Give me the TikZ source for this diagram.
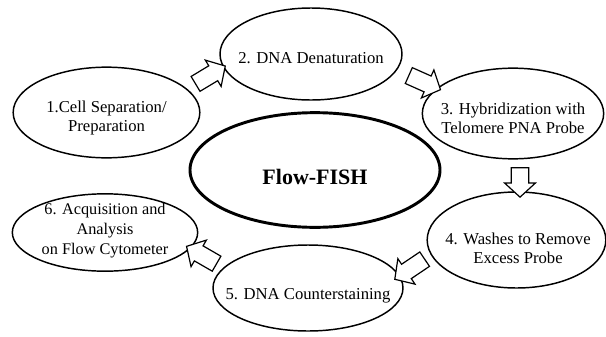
\documentclass[tikz,border=0pt]{standalone}
\usepackage{fontspec}
\setmainfont{Liberation Serif}
\usetikzlibrary{shapes.geometric,shapes.arrows}
\tikzset{
  stepell/.style={ellipse, draw, line width=1.1pt, inner sep=0pt},
  steptext/.style={align=center, inner sep=0pt,
    font=\fontsize{12.5pt}{14.3pt}\selectfont},
  hubell/.style={ellipse, draw, line width=2.2pt, inner sep=0pt},
  hubtext/.style={inner sep=0pt, font=\fontsize{16.5pt}{18pt}\selectfont\bfseries},
  barrow/.style={single arrow, draw, line width=0.9pt, fill=white, inner xsep=0pt,
    inner ysep=5.4pt, minimum width=23pt, single arrow head extend=4.5pt,
    single arrow tip angle=95}
}
\begin{document}
\begin{tikzpicture}[x=0.75pt,y=-0.75pt]
\useasboundingbox (0,0) rectangle (606,336);
\node[stepell, minimum width=140pt, minimum height=68pt] (s1) at (106.5,112.5) {};
\node[stepell, minimum width=136.5pt, minimum height=69pt] (s2) at (311,54) {};
\node[stepell, minimum width=136pt, minimum height=68pt] (s3) at (513,113.5) {};
\node[stepell, minimum width=134pt, minimum height=72pt] (s4) at (516.5,240) {};
\node[stepell, minimum width=142.5pt, minimum height=64.5pt] (s5) at (308,288) {};
\node[stepell, minimum width=139pt, minimum height=58pt] (s6) at (105,232.5) {};
\node[hubell, minimum width=187.5pt, minimum height=86pt] (hub) at (315,170) {};
\node[steptext] (t1) at (106.5,118) {1.Cell Separation/\\Preparation};
\node[steptext] (t2) at (311,58) {2. DNA Denaturation};
\node[steptext] (t3) at (513,118) {3. Hybridization with\\Telomere PNA Probe};
\node[steptext] (t4) at (518,248) {4. Washes to Remove\\Excess Probe};
\node[steptext] (t5) at (308,296) {5. DNA Counterstaining};
\node[steptext, font=\fontsize{12.2pt}{15pt}\selectfont] (t6) at (105,231) {6. Acquisition and\\Analysis\\on Flow Cytometer};
\node[hubtext] (th) at (315,177) {Flow-FISH};
\node[barrow, minimum height=26pt, rotate=31] (a12) at (207,77) {};
\node[barrow, minimum height=26pt, rotate=-24] (a23) at (421,81) {};
\node[barrow, minimum height=22pt, rotate=-90] (a34) at (520,178.5) {};
\node[barrow, minimum height=27pt, rotate=214] (a45) at (413,267) {};
\node[barrow, minimum height=26pt, rotate=150] (a56) at (205,257) {};
\end{tikzpicture}
\end{document}
